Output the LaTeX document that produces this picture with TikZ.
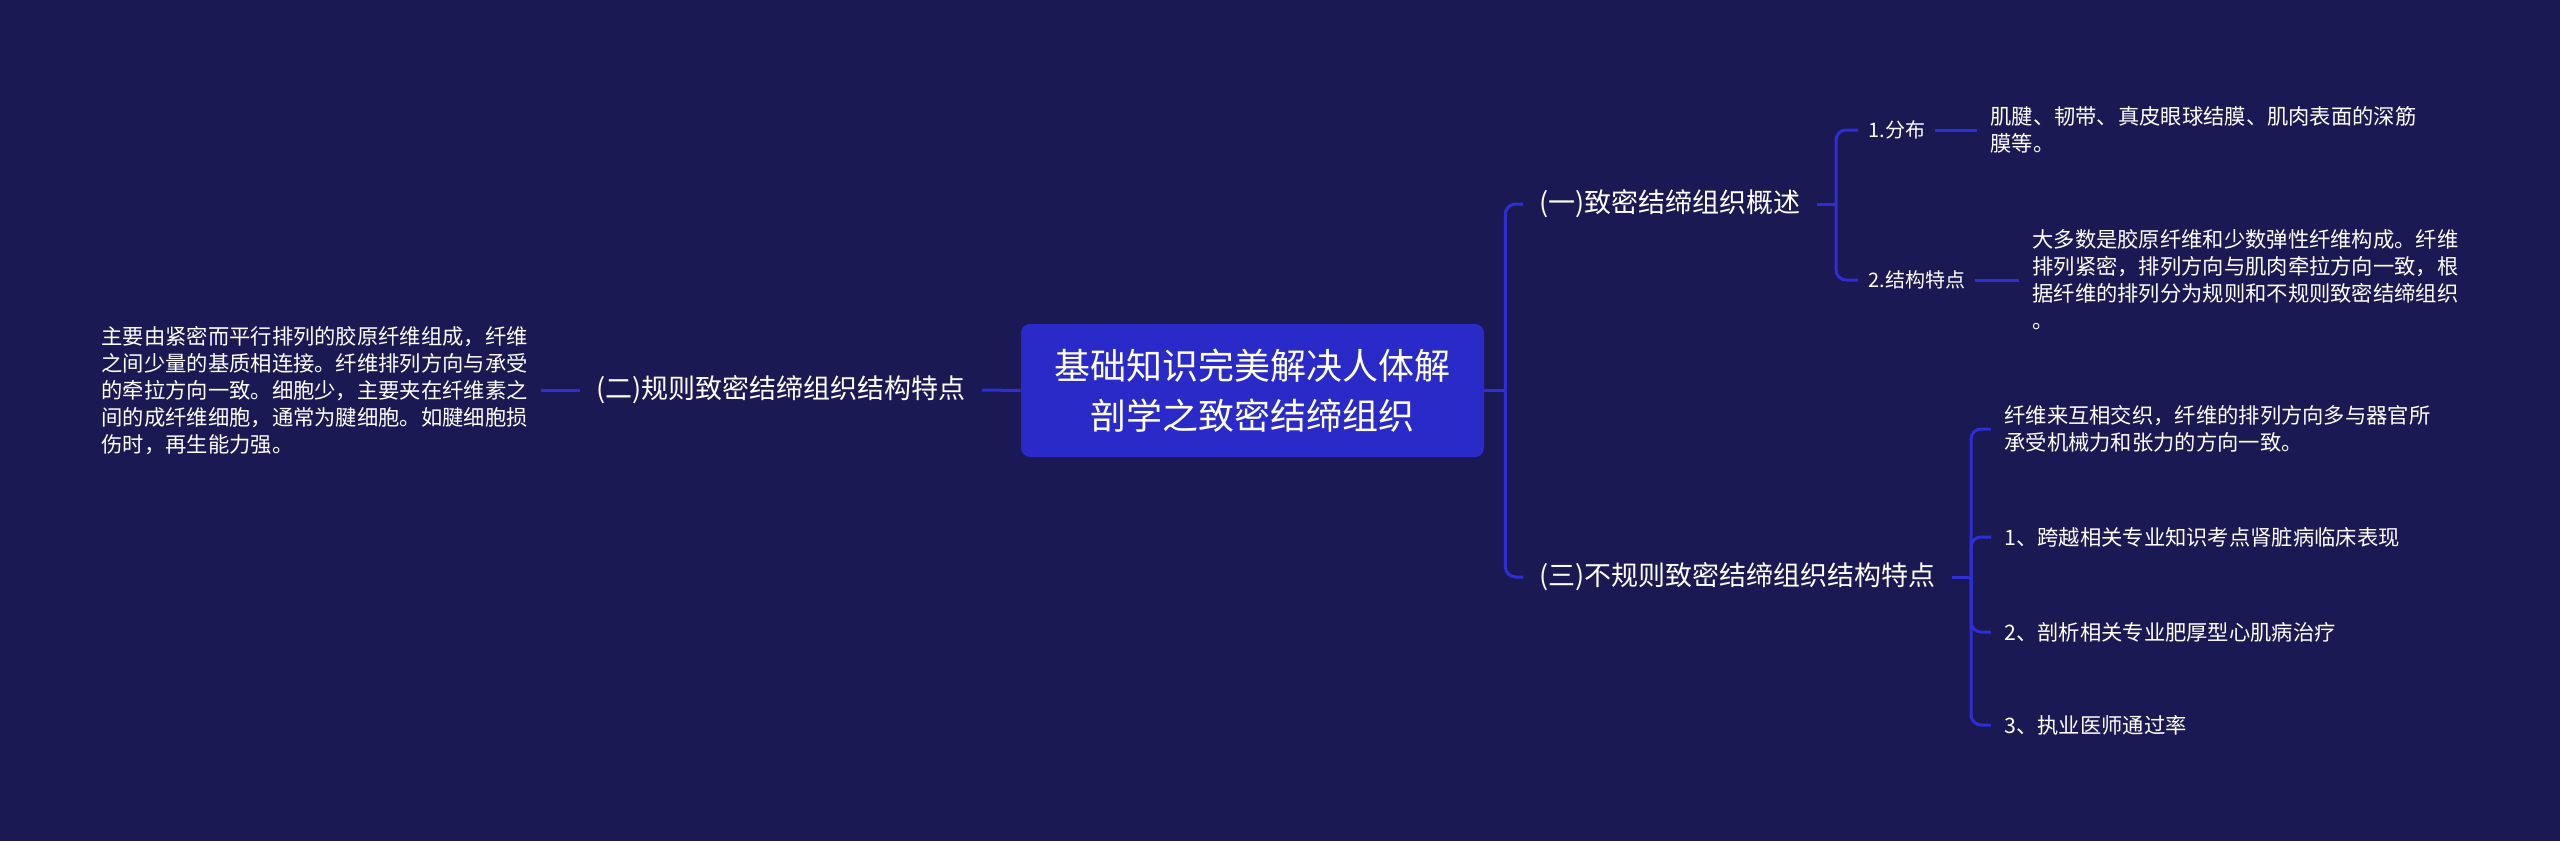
\documentclass[tikz,border=0pt]{standalone}
\usepackage{fontspec}
\newfontfamily\cjkfont{Noto Sans CJK SC}
\definecolor{fondo}{RGB}{27,25,83}
\definecolor{cajaazul}{RGB}{42,42,200}
\definecolor{linea}{RGB}{46,46,212}
\tikzset{
  raiz/.style={fill=cajaazul, rounded corners=4.5pt, align=center, minimum width=231.5pt, minimum height=66.5pt, font=\cjkfont\fontsize{18}{25}\selectfont},
  tema/.style={font=\cjkfont\fontsize{13.5}{16}\selectfont, inner xsep=8pt},
  subtema/.style={font=\cjkfont\fontsize{10}{12}\selectfont, inner xsep=5pt},
  hoja/.style={font=\cjkfont\fontsize{10.65}{13.5}\selectfont, align=left, inner xsep=6.5pt},
  arista/.style={draw=linea, line width=1.5pt, rounded corners=5pt}
}
\begin{document}
\begin{tikzpicture}[x=0.5pt,y=-0.5pt,every node/.style={text=white}]
  % Fondo
  \fill[fondo] (0,0) rectangle (2560,841);

  % Nodo central
  \node[raiz] (raiz) at (1252.5,390.5) {基础知识完美解决人体解\\剖学之致密结缔组织};

  % Temas principales
  \node[tema, anchor=west] (t1) at (1523,204) {(一)致密结缔组织概述};
  \node[tema, anchor=east] (t2) at (982,390) {(二)规则致密结缔组织结构特点};
  \node[tema, anchor=west] (t3) at (1523,577) {(三)不规则致密结缔组织结构特点};

  % Subtemas de (一)
  \node[subtema, anchor=west] (s1) at (1858,130) {1.分布};
  \node[subtema, anchor=west] (s2) at (1858,280) {2.结构特点};

  % Hojas
  \node[hoja, anchor=west] (h1) at (1977,130) {肌腱、韧带、真皮眼球结膜、肌肉表面的深筋\\膜等。};
  \node[hoja, anchor=west] (h2) at (2019,280) {大多数是胶原纤维和少数弹性纤维构成。纤维\\排列紧密，排列方向与肌肉牵拉方向一致，根\\据纤维的排列分为规则和不规则致密结缔组织\\。};
  \node[hoja, anchor=east] (h0) at (541,391) {主要由紧密而平行排列的胶原纤维组成，纤维\\之间少量的基质相连接。纤维排列方向与承受\\的牵拉方向一致。细胞少，主要夹在纤维素之\\间的成纤维细胞，通常为腱细胞。如腱细胞损\\伤时，再生能力强。};
  \node[hoja, anchor=west] (c1) at (1991,429) {纤维来互相交织，纤维的排列方向多与器官所\\承受机械力和张力的方向一致。};
  \node[hoja, anchor=west] (c2) at (1991,537) {1、跨越相关专业知识考点肾脏病临床表现};
  \node[hoja, anchor=west] (c3) at (1991,632) {2、剖析相关专业肥厚型心肌病治疗};
  \node[hoja, anchor=west] (c4) at (1991,725) {3、执业医师通过率};

  % Aristas
  \draw[arista] (raiz.east) -- ++(21,0) coordinate (jr);
  \foreach \n in {t1,t3}
    \draw[arista] (jr) |- (\n.west);
  \draw[arista] (raiz.west) -- (t2.east);
  \draw[arista] (t2.west) -- (h0.east |- t2.west);

  \draw[arista] (t1.east) -- ++(19,0) coordinate (j1);
  \foreach \n in {s1,s2}
    \draw[arista] (j1) |- (\n.west);
  \foreach \from/\to in {s1/h1, s2/h2}
    \draw[arista] (\from.east) -- (\to.west);

  \draw[arista] (t3.east) -- ++(19,0) coordinate (j3);
  \foreach \n in {c1,c2,c3,c4}
    \draw[arista] (j3) |- (\n.west);
\end{tikzpicture}
\end{document}
